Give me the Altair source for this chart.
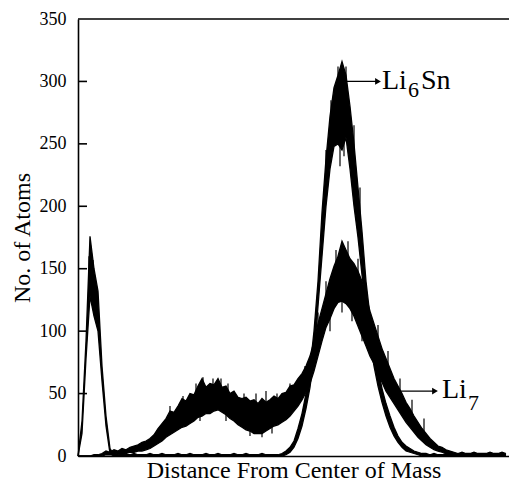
import altair as alt
import pandas as pd

# ---- data (x: position along the distance axis, arbitrary units) ----
x_grid = list(range(0, 432, 4))  # 108 sample positions

li6sn_lo = [0, 18, 78, 128, 112, 100, 60, 24, 2,
            0,
            0, 0, 0, 0, 0, 0, 0, 0, 0, 0,
            0, 0, 0, 0, 0, 0, 0, 0, 0, 0,
            0, 0, 0, 0, 0, 0, 0, 0, 0, 0,
            0, 0, 0, 0, 0, 0, 0, 0, 0, 0,
            0, 0, 1, 3, 7, 14, 24, 38, 55, 80,
            120, 160, 200, 230, 248, 250, 245, 255, 230, 200,
            175, 145, 118, 92, 72, 56, 43, 32, 23, 16,
            11, 7, 4, 3, 2, 1, 0, 0,
            0, 0, 0, 0, 0, 0, 0, 0, 0, 0,
            0, 0, 0, 0, 0, 0, 0, 0, 0, 0]
li6sn_hi = [0, 28, 92, 176, 150, 132, 72, 32, 6,
            1,
            1, 2, 1, 1, 2, 1, 1, 1, 2, 1,
            1, 2, 1, 1, 1, 2, 1, 1, 2, 1,
            1, 1, 2, 1, 1, 2, 1, 1, 1, 2,
            1, 1, 2, 1, 1, 1, 2, 1, 1, 1,
            1, 2, 4, 7, 12, 22, 34, 50, 70, 100,
            140, 195, 238, 272, 295, 305, 316, 305, 280, 250,
            215, 180, 140, 112, 88, 70, 54, 42, 32, 23,
            16, 11, 8, 6, 4, 3, 2, 2,
            1, 2, 1, 1, 2, 1, 1, 1, 2, 1,
            1, 2, 1, 1, 1, 2, 1, 1, 2, 1]

li7_lo = [0, 0, 0, 0, 0, 0, 0,
          1, 1, 1, 2, 2, 2, 3, 3, 4, 4, 5,
          6, 8, 10, 12, 15, 17, 19, 21, 23, 24, 26, 28,
          31, 32, 34, 34, 36, 37, 35, 33, 30, 28,
          25, 23, 21, 20, 18, 18, 18, 20, 22, 24,
          25, 27, 29, 32, 36, 40, 45, 51, 58, 68,
          80, 92, 103, 110, 118, 123, 124, 122, 118, 112,
          104, 96, 88, 80, 74, 66, 59, 52, 47, 42,
          37, 32, 27, 23, 19, 15, 12, 9, 7, 5,
          4, 3, 2, 1, 0,
          0, 0, 0, 0, 0, 0, 0, 0, 0, 0, 0, 0, 0]
li7_hi = [0, 0, 0, 0, 1, 1, 2,
          4, 3, 5, 4, 6, 5, 7, 8, 9, 11, 12,
          14, 17, 22, 26, 30, 36, 35, 40, 46, 44, 50, 49,
          56, 62, 55, 58, 57, 62, 55, 56, 50, 52,
          47, 46, 47, 44, 45, 42, 46, 43, 45, 48,
          46, 50, 51, 56, 57, 62, 66, 72, 80, 92,
          106, 118, 130, 142, 152, 160, 172, 165, 158, 154,
          148, 140, 128, 116, 106, 96, 86, 78, 70, 62,
          56, 50, 43, 38, 32, 27, 22, 18, 14, 11,
          8, 7, 5, 4, 3,
          2, 3, 2, 2, 3, 2, 2, 2, 3, 2, 2, 3, 2]

# individual noise spikes visible in the traces (position, from, to)
spike_x = [92, 105, 118, 125, 135, 143, 150, 166, 178, 188, 199, 212, 227, 240, 248, 258,
           270, 280, 288, 300, 310, 322, 334, 346,
           122, 148, 172, 184, 194, 252, 264, 274, 284,
           248, 253, 260, 268, 276, 282, 262, 266, 11, 15]
spike_from = [28, 34, 42, 45, 46, 46, 42, 34, 30, 32, 36, 44, 58, 92, 118, 140,
              140, 126, 108, 82, 64, 46, 32, 20,
              40, 44, 30, 30, 32, 125, 140, 135, 118,
              220, 260, 280, 280, 230, 190, 270, 280, 130, 130]
spike_to = [40, 48, 58, 63, 62, 62, 58, 50, 50, 52, 50, 58, 72, 115, 140, 165,
            172, 158, 138, 105, 84, 62, 45, 30,
            28, 28, 16, 15, 18, 100, 115, 108, 92,
            245, 285, 312, 312, 265, 215, 232, 240, 160, 157]

y_tick_values = [0, 50, 100, 150, 200, 250, 300, 350]
inner_ticks = [50, 100, 150, 200, 250, 300]

# annotations
ann_text = ["Li", "6", "Sn", "Li", "7"]
ann_x = [304, 330, 343, 364, 390]
ann_y = [294, 287.5, 294, 46.5, 37]
ann_size = [28, 22, 28, 28, 22]

arrow_x1 = [265, 320]
arrow_x2 = [300, 357]
arrow_y = [300, 52]

FONT = "Liberation Serif"

rows = []
for name, lo, hi in [("Li6Sn", li6sn_lo, li6sn_hi), ("Li7", li7_lo, li7_hi)]:
    for x, l, h in zip(x_grid, lo, hi):
        rows.append({"series": name, "x": x, "lo": l, "hi": h})
df = pd.DataFrame(rows)

xs = alt.Scale(domain=[0, 431], nice=False, zero=False)
ys = alt.Scale(domain=[0, 350], nice=False)

x_axis = alt.Axis(title="Distance From Center of Mass", labels=False, ticks=False, grid=False,
                  domain=True, titlePadding=2)
y_axis = alt.Axis(title="No. of Atoms", values=y_tick_values, ticks=False, tickSize=0, grid=False,
                  labelPadding=12, domain=True, titlePadding=5)

band = alt.Chart(df).mark_area(color="black", interpolate="linear", opacity=1).encode(
    x=alt.X("x:Q", scale=xs, axis=x_axis),
    y=alt.Y("lo:Q", scale=ys, axis=y_axis),
    y2="hi:Q",
    detail="series:N",
)
edge_lo = alt.Chart(df).mark_line(color="black", strokeWidth=1.3).encode(
    x=alt.X("x:Q"),
    y=alt.Y("lo:Q"),
    detail="series:N",
)
edge_hi = alt.Chart(df).mark_line(color="black", strokeWidth=1.3).encode(
    x=alt.X("x:Q"),
    y=alt.Y("hi:Q"),
    detail="series:N",
)

spikes_df = pd.DataFrame({"x": spike_x, "a": spike_from, "b": spike_to})
spikes = alt.Chart(spikes_df).mark_rule(color="black", strokeWidth=1.2).encode(
    x=alt.X("x:Q"),
    y=alt.Y("a:Q"),
    y2="b:Q",
)

top_border = alt.Chart(pd.DataFrame({"v": [350]})).mark_rule(color="black", strokeWidth=1.6).encode(
    y=alt.Y("v:Q")
)
ticks = alt.Chart(pd.DataFrame({"v": inner_ticks})).mark_rule(color="black", strokeWidth=1.6).encode(
    y=alt.Y("v:Q"),
    x=alt.datum(0),
    x2=alt.datum(9),
)

arrows_df = pd.DataFrame({"x1": arrow_x1, "x2": arrow_x2, "y": arrow_y})
arrow_lines = alt.Chart(arrows_df).mark_rule(color="black", strokeWidth=1.3).encode(
    x=alt.X("x1:Q"),
    x2="x2:Q",
    y=alt.Y("y:Q"),
)
arrow_heads = alt.Chart(arrows_df).mark_point(shape="triangle-right", filled=True, color="black",
                                              size=45, opacity=1).encode(
    x=alt.X("x2:Q"),
    y=alt.Y("y:Q"),
)

ann_df = pd.DataFrame({"t": ann_text, "x": ann_x, "y": ann_y, "s": ann_size})
labels = alt.Chart(ann_df).mark_text(align="left", baseline="alphabetic", font=FONT, color="black").encode(
    x=alt.X("x:Q"),
    y=alt.Y("y:Q"),
    text="t:N",
    size=alt.Size("s:Q", scale=None, legend=None),
)

chart = alt.layer(band, edge_lo, edge_hi, spikes, top_border, ticks, arrow_lines, arrow_heads,
                  labels).properties(
    width=431, height=437,
    autosize=alt.AutoSizeParams(type="none"),
    padding={"left": 78, "top": 19, "right": 0, "bottom": 29},
    background="white",
).configure_view(stroke=None).configure_axis(
    labelFont=FONT, labelFontSize=18, labelColor="black",
    titleFont=FONT, titleFontSize=24, titleFontWeight="normal", titleColor="black",
    domainColor="black", domainWidth=1.6,
)

chart.save("out.html", embed_options={"renderer": "svg", "actions": False})
